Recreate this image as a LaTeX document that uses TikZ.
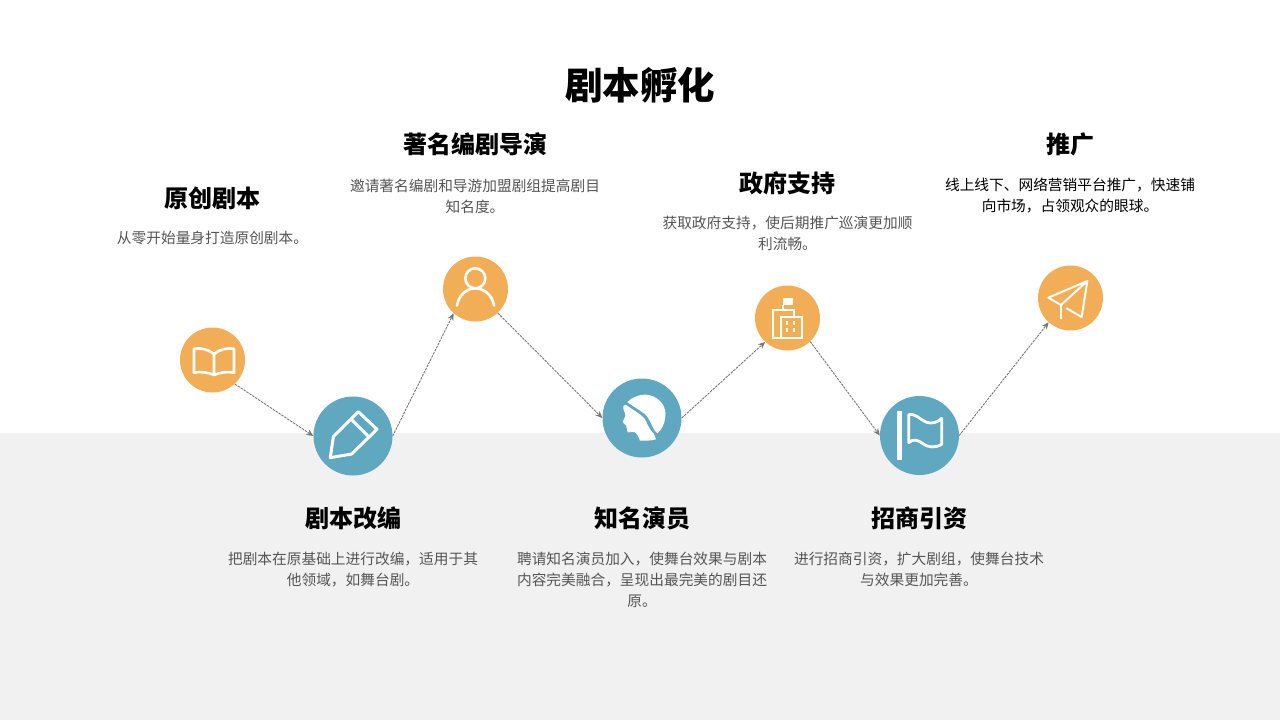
\documentclass[tikz,border=0pt]{standalone}
\usepackage{fontspec}
\setmainfont{Noto Sans CJK SC}
\usetikzlibrary{arrows.meta}
\definecolor{orangefill}{HTML}{F2AE56}
\definecolor{bluefill}{HTML}{5FA8C0}
\definecolor{bandgray}{HTML}{F1F1F1}
\definecolor{desc}{HTML}{555555}
\definecolor{link}{HTML}{777777}
\tikzset{
  small dot/.style={circle,fill=orangefill,minimum size=65pt,inner sep=0pt},
  big dot/.style={circle,fill=bluefill,minimum size=79pt,inner sep=0pt},
  heading/.style={font=\fontsize{24}{28}\selectfont\bfseries,text=black,inner sep=0pt},
  body/.style={font=\fontsize{14.7}{21}\selectfont,text=desc,align=center,inner sep=0pt},
  linker/.style={draw=link,line width=.9pt,dash pattern=on 2.5pt off 1pt,-{Stealth[length=7pt,width=6pt]}},
  icon/.style={draw=white,line cap=round,line join=round,line width=2.6pt},
}
\begin{document}
\begin{tikzpicture}[x=1pt,y=-1pt]
\useasboundingbox (0,0) rectangle (1280,720);
\fill[white] (0,0) rectangle (1280,720);
\fill[bandgray] (0,433) rectangle (1280,720);

\node[font=\fontsize{37.5}{42}\selectfont\bfseries,inner sep=0pt] (title) at (640,85) {剧本孵化};

\node[small dot] (book) at (212.5,360) {};
\node[big dot] (pencil) at (353,436) {};
\node[small dot] (person) at (475.5,289) {};
\node[big dot] (head) at (642,418) {};
\node[small dot] (bldg) at (787.5,318) {};
\node[big dot] (flag) at (919.5,435.5) {};
\node[small dot] (plane) at (1070.5,298) {};

\draw[linker] (book.-47) -- (pencil.180);
\draw[linker] (pencil.0) -- (person.-132);
\draw[linker] (person.-47) -- (head.180);
\draw[linker] (head.0) -- (bldg.-133);
\draw[linker] (bldg.-46) -- (flag.180);
\draw[linker] (flag.0) -- (plane.-132);

\node[heading] (h1) at (212.5,198) {原创剧本};
\node[body] (d1) at (212.5,238) {从零开始量身打造原创剧本。};
\node[heading] (h2) at (353,518) {剧本改编};
\node[body] (d2) at (353,569.5) {把剧本在原基础上进行改编，适用于其\\他领域，如舞台剧。};
\node[heading] (h3) at (475,144) {著名编剧导演};
\node[body] (d3) at (475,196.5) {邀请著名编剧和导游加盟剧组提高剧目\\知名度。};
\node[heading] (h4) at (642,518) {知名演员};
\node[body] (d4) at (642,580) {聘请知名演员加入，使舞台效果与剧本\\内容完美融合，呈现出最完美的剧目还\\原。};
\node[heading] (h5) at (787,183) {政府支持};
\node[body] (d5) at (787.5,233.5) {获取政府支持，使后期推广巡演更加顺\\利流畅。};
\node[heading] (h6) at (919,518) {招商引资};
\node[body] (d6) at (919,569.5) {进行招商引资，扩大剧组，使舞台技术\\与效果更加完善。};
\node[heading] (h7) at (1070,144) {推广};
\node[body,text=black] (d7) at (1070,195.5) {线上线下、网络营销平台推广，快速铺\\向市场，占领观众的眼球。};

% book and pencil and person icons
\begin{scope}[shift={(170,250)},scale=1/3]
\draw[icon] (132,375) -- (132,312) .. controls (115,298) and (92,293) .. (72,296) -- (72,368) .. controls (92,364) and (115,367) .. (132,375) .. controls (149,367) and (172,364) .. (192,368) -- (192,296) .. controls (172,293) and (149,298) .. (132,312);
\draw[icon,line width=3pt] (481,623) -- (490,560) -- (565,485) -- (621,538) -- (545,612) -- cycle;
\draw[icon,line width=3pt] (546,510) -- (598,562);
\draw[icon] (916,85) circle[radius=30];
\draw[icon] (861,167) .. controls (866,135) and (890,115) .. (916,115) .. controls (942,115) and (967,135) .. (972,167);
\end{scope}

% head and building icons
\begin{scope}[shift={(590,270)},scale=1/3]
\fill[white] (112,396) .. controls (130,378) and (160,370) .. (180,376) .. controls (210,384) and (230,410) .. (226,440) .. controls (224,462) and (215,480) .. (202,490) .. controls (190,482) and (185,460) .. (175,445) .. controls (163,425) and (135,415) .. (112,396) -- cycle;
\fill[white] (100,408) .. controls (104,402) and (110,404) .. (113,408) .. controls (130,422) and (150,428) .. (165,448) .. controls (172,460) and (178,480) .. (192,492) -- (198,508) .. controls (180,513) and (165,512) .. (150,512) .. controls (146,500) and (140,490) .. (134,486) -- (113,487) -- (108,466) -- (98,456) -- (106,438) .. controls (107,428) and (98,420) .. (100,408) -- cycle;
\fill[white] (578,85) rectangle (608,105);
\draw[icon,line cap=butt,line join=miter,line width=2pt] (578,105) -- (578,120);
\draw[icon,line cap=butt,line join=miter,line width=2pt] (611,138) -- (611,120) -- (548,120) -- (548,203) -- (572,203);
\draw[icon,line cap=butt,line join=miter,line width=2pt] (572,140) rectangle (636,205);
\foreach \wx in {592,612} \foreach \wy in {158,180}
  \fill[white] (\wx-3,\wy-6) rectangle (\wx+3,\wy+6);
\end{scope}

% flag and plane icons
\begin{scope}[shift={(860,250)},scale=1/3]
\draw[icon,line cap=butt,line width=4.4pt] (118,484) -- (118,629);
\draw[icon,line width=2.8pt] (146,494) .. controls (170,490) and (180,510) .. (200,517) .. controls (215,522) and (232,518) .. (245,505) -- (245,583) .. controls (225,595) and (205,592) .. (190,582) .. controls (175,570) and (160,565) .. (146,578) -- cycle;
\draw[icon,line width=2pt] (682,93) -- (565,143) -- (603,165) -- (682,93) -- (665,201) -- (620,175);
\draw[icon,line width=2pt] (603,165) -- (603,205);
\end{scope}
\end{tikzpicture}
\end{document}
